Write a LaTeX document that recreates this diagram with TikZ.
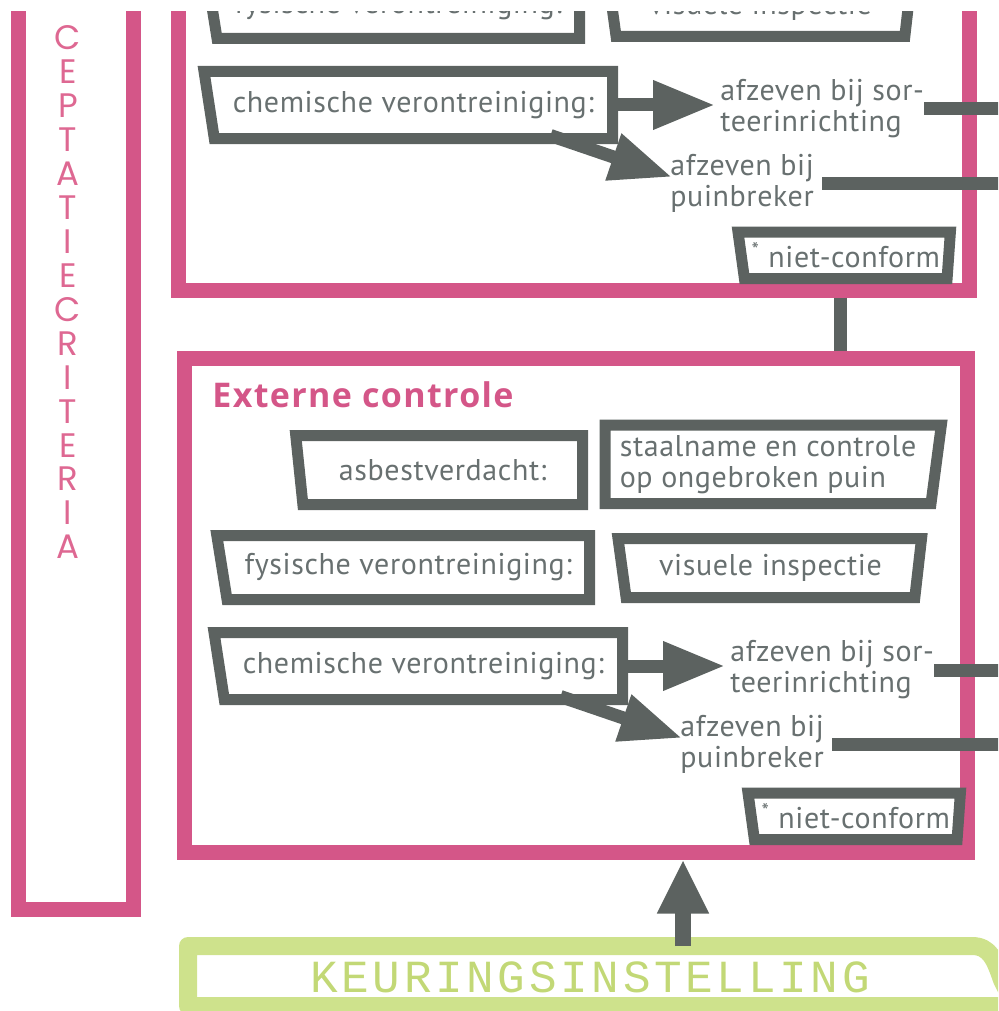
\documentclass[tikz,border=0pt]{standalone}
\usepackage{fontspec}
\setmainfont{PT Sans}[LetterSpace=2]
\newfontfamily\titelfont{Open Sans}[LetterSpace=4]
\newfontfamily\stempel{Liberation Mono}[LetterSpace=8]
\newfontfamily\kolom{Poppins}
\usetikzlibrary{arrows.meta,shapes.geometric,calc}
\definecolor{roze}{RGB}{212,86,136}
\definecolor{rozeletter}{RGB}{222,104,146}
\definecolor{grijs}{RGB}{92,98,96}
\definecolor{tekst}{RGB}{104,112,112}
\definecolor{groen}{RGB}{206,226,140}
\definecolor{groentekst}{RGB}{194,216,118}
\tikzset{>={Triangle[length=31pt,width=23pt]}}

\begin{document}
\begin{tikzpicture}[x=0.5pt, y=-0.5pt,
    kader/.style={rectangle, draw=roze, line width=7.5pt, inner sep=0pt},
    vak/.style={trapezium, trapezium stretches=true, draw=grijs, line width=5.5pt,
      outer sep=0pt, inner sep=1pt, text=tekst, font=\fontsize{15}{15.5}\selectfont},
    uitleg/.style={text=tekst, align=left, inner sep=0pt, font=\fontsize{15}{15.5}\selectfont},
    pijl/.style={->, draw=grijs, line width=6.5pt},
    balk/.style={draw=grijs, line width=6.5pt},
    letter/.style={text=rozeletter, inner sep=0pt, font=\kolom\fontsize{17}{17}\selectfont}]
  \useasboundingbox (0,0) rectangle (998,1011);
  \clip (0,12) rectangle (998,1011);

  % kaders
  \node[kader, minimum width=57.5pt, minimum height=479.5pt] (acceptatie) at (75.5,429.5) {};
  \node[kader, minimum width=395.75pt, minimum height=220pt] (bovenkader) at (573.75,70) {};
  \node[kader, minimum width=391.5pt, minimum height=247pt] (extern) at (575.5,605) {};
  \foreach \l [count=\i from 0] in {C,E,P,T,A,T,I,E,C,R,I,T,E,R,I,A}
    \node[letter] (acc\i) at (68,{38+\i*33.93}) {\l};

  \coordinate (verbinding) at (840,0);
  \draw[balk] (verbinding |- bovenkader.south) -- (verbinding |- extern.north);

  \node[anchor=base west, inner sep=0pt, text=roze, font=\titelfont\bfseries\fontsize{17}{17}\selectfont]
    (titel) at (212,407) {Externe controle};
  \node[vak, anchor=top right corner, minimum width=143.5pt, minimum height=34.5pt,
    trapezium left angle=102, trapezium right angle=90] (asbest) at (582.5,435.5) {asbestverdacht:};
  \node[vak, anchor=top left corner, minimum width=168.5pt, minimum height=39.25pt, align=left,
    trapezium left angle=90, trapezium right angle=98.7] (staal) at (605,425)
    {staalname en controle\\op ongebroken puin};

  % rijen in beide kaders
  \foreach \k/\dx/\dy in {a/-10/-561, b/0/0}{
    \begin{scope}[shift={(\dx,\dy)}]
      \node[vak, anchor=top right corner, minimum width=186.75pt, minimum height=32pt,
        trapezium left angle=106.5, trapezium right angle=90] (fys\k) at (589.5,535.5)
        {fysische verontreiniging:};
      \node[vak, anchor=top left corner, minimum width=152pt, minimum height=29.5pt,
        trapezium left angle=101.5, trapezium right angle=99.6] (vis\k) at (618,538.5)
        {visuele inspectie};
      \node[vak, anchor=top right corner, minimum width=204.75pt, minimum height=33.5pt,
        trapezium left angle=106.6, trapezium right angle=90] (chem\k) at (622.5,632.5)
        {chemische verontreiniging:};
      \node[vak, anchor=top left corner, minimum width=106.5pt, minimum height=23.25pt,
        trapezium left angle=101.5, trapezium right angle=96] (niet\k) at (748,793)
        {\textsuperscript{*} niet-conform};
      \node[uitleg, anchor=west] (sort\k) at (730,670) {afzeven bij sor-\\teerinrichting};
      \node[uitleg, anchor=west] (puin\k) at (680,744) {afzeven bij\\puinbreker};
      \coordinate (rand\k) at (1010,0);
      \draw[pijl, shorten >=2.5pt] (chem\k.east) -- (chem\k.east -| sort\k.west);
      \draw[pijl] ($(chem\k.bottom right corner)+(-62,-3)$) -- ($(puin\k.west)+(2,-6)$);
      \draw[balk] (sort\k.east) -- (sort\k.east -| rand\k);
      \draw[balk] ($(puin\k.east)+(8,0)$) -- (puin\k.east -| rand\k);
    \end{scope}
  }

  % keuringsinstelling
  \draw[draw=groen, line width=9pt, line join=round] (188,946) -- (972,946)
    .. controls (990,946) and (995,960) .. (1002,980) -- (1015,1006) -- (188,1006) -- cycle;
  \node[anchor=base, inner sep=0pt, text=groentekst, font=\stempel\fontsize{23}{23}\selectfont]
    (keur) at (590,992) {KEURINGSINSTELLING};
  \coordinate (keurtop) at (683,946);
  \draw[pijl, line width=8pt, -{Triangle[length=27pt,width=24pt]}] (keurtop) -- (keurtop |- extern.south);
\end{tikzpicture}
\end{document}
